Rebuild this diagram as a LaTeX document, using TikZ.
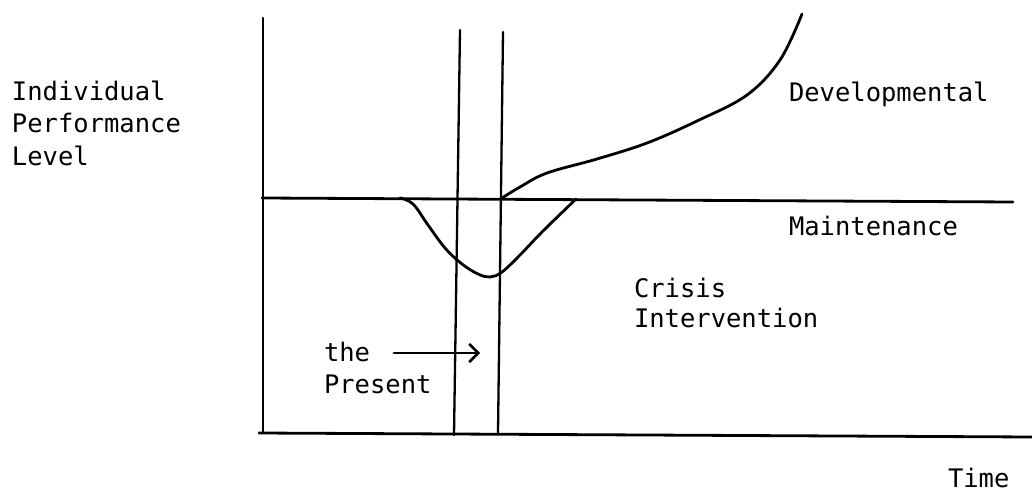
\documentclass[tikz,border=0pt]{standalone}
\usepackage{fontspec}
\setmonofont{DejaVu Sans Mono}
\usetikzlibrary{arrows.meta}
\tikzset{
  ink/.style={line width=2.8pt, line cap=round, line join=round, black},
  thinink/.style={line width=2.3pt, line cap=round, black},
  lbl/.style={anchor=base west, inner sep=0pt, outer sep=0pt, font=\ttfamily\fontsize{25.5}{31}\selectfont},
}
\begin{document}
\begin{tikzpicture}[x=1pt,y=-1pt]
\useasboundingbox (0,0) rectangle (1032,497);
% axes
\coordinate (ytop) at (263,18);
\coordinate (ybot) at (263,433);
\coordinate (origin) at (259,433);
\coordinate (xend) at (1032,437);
\coordinate (mleft) at (262,198);
\coordinate (mright) at (1013,202);
\coordinate (v1top) at (460,30);
\coordinate (v1bot) at (454,435);
\coordinate (v2top) at (503,32);
\coordinate (v2bot) at (498,433);
\draw[thinink] (ytop) -- (ybot);
\draw[ink] (origin) -- (xend);
\draw[ink] (mleft) -- (mright);
\draw[thinink] (v1top) -- (v1bot);
\draw[thinink] (v2top) -- (v2bot);
% dip curve
\draw[ink] plot[smooth, tension=0.6] coordinates {(400,198) (413,204) (428,225) (445,248) (462,264) (478,274) (490,277) (502,272) (520,255) (542,232) (576,199)};
% developmental curve
\draw[ink] plot[smooth, tension=0.6] coordinates {(502,198) (520,187) (547,173) (597,159) (647,143) (697,121) (747,95) (780,60) (802,14)};
% labels
\node[lbl] (ind) at (12,101) {Individual};
\node[lbl] (perf) at (12,133) {Performance};
\node[lbl] (lev) at (12,165) {Level};
\node[lbl] (dev) at (789,102) {Developmental};
\node[lbl] (mai) at (789,235) {Maintenance};
\node[lbl] (cri) at (634,297) {Crisis};
\node[lbl] (intv) at (634,327) {Intervention};
\node[lbl] (the) at (324,361) {the};
\node[lbl] (pres) at (324,393) {Present};
\node[lbl] (time) at (948,487) {Time};
% arrow
\coordinate (arrs) at (394,353);
\coordinate (arre) at (480,353);
\draw[ink, -{Straight Barb[length=9pt,width=18pt,line width=2.6pt]}] (arrs) -- (arre);
\end{tikzpicture}
\end{document}
